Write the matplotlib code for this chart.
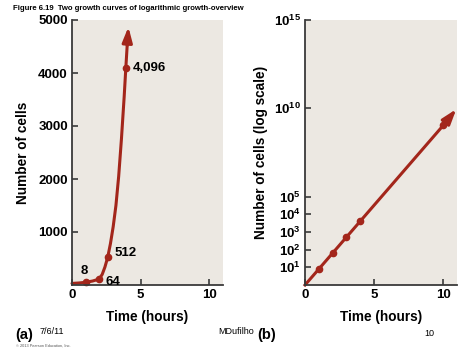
import numpy as np
import matplotlib
matplotlib.use('Agg')
import matplotlib.pyplot as plt

plt.rcParams['font.family'] = ['Liberation Sans', 'DejaVu Sans']
plt.rcParams['mathtext.fontset'] = 'custom'
plt.rcParams['mathtext.rm'] = 'Liberation Sans'
plt.rcParams['mathtext.bf'] = 'Liberation Sans:bold'

# (a) arithmetic scale
curve_t = [0, 0.5, 1.0, 1.5, 1.8, 2.0, 2.2, 2.4, 2.6, 2.8, 3.0, 3.2, 3.4, 3.6, 3.8, 3.92, 4.02]
curve_n = [30, 38, 51, 75, 98, 120, 200, 340, 522, 780, 1100, 1500, 2050, 2750, 3550, 4090, 4520]
tip_a = (4.11, 4870)
pts_t = [1.0, 1.97, 2.6, 3.92]
pts_n = [51, 113, 522, 4090]
pt_labels = ['8', '64', '512', '4,096']

# (b) log scale, 8x per hour
log_t = [0, 1, 2, 3, 4, 10]
log_n = [1, 8, 64, 512, 4096, 1073741824]
tip_b = (10.95, 9.0e9)

red = '#a3261b'
bg = '#ece8e2'
axc = '#3a3a3a'

fig = plt.figure(figsize=(4.74, 3.55), dpi=100)
ax1 = fig.add_axes([72/474, 70/355, 151/474, 265/355])
ax2 = fig.add_axes([305/474, 70/355, 152/474, 265/355])

for ax in (ax1, ax2):
    ax.set_facecolor(bg)
    ax.spines['top'].set_visible(False)
    ax.spines['right'].set_visible(False)
    for s in ('left', 'bottom'):
        ax.spines[s].set_color(axc)
        ax.spines[s].set_linewidth(1.3)
    ax.tick_params(direction='in', length=4.5, width=1.2, color=axc,
                   labelsize=9.5, pad=3)
    ax.set_xlim(0, 11)
    ax.set_xticks([0, 5, 10])
    ax.set_xticklabels(['0', '5', '10'], fontweight='bold')
    ax.set_xlabel('Time (hours)', fontsize=9.8, fontweight='bold', labelpad=6)

# panel a
ax1.set_ylim(0, 5000)
ax1.set_yticks([1000, 2000, 3000, 4000, 5000])
ax1.set_yticklabels(['1000', '2000', '3000', '4000', '5000'], fontweight='bold')
ax1.plot(curve_t, curve_n, color=red, lw=2.2, solid_capstyle='round',
         solid_joinstyle='round', clip_on=False)
ax1.annotate('', xy=tip_a, xytext=(curve_t[-1], curve_n[-1]),
             arrowprops=dict(arrowstyle='-|>,head_length=0.9,head_width=0.3',
                             color=red, lw=2.2, shrinkA=0, shrinkB=0))
ax1.plot(pts_t, pts_n, 'o', color=red, ms=4.5, clip_on=False)
offs = [(-1, 4, 'center', 'bottom'), (5, -2, 'left', 'center'),
        (5, 3, 'left', 'center'), (5, 0, 'left', 'center')]
for t, n, lab, (dx, dy, ha, va) in zip(pts_t, pts_n, pt_labels, offs):
    ax1.annotate(lab, (t, n), xytext=(dx, dy), textcoords='offset points',
                 ha=ha, va=va, fontsize=9.5, fontweight='bold')
ax1.set_ylabel('Number of cells', fontsize=9.8, fontweight='bold', labelpad=6)

# panel b
ax2.set_yscale('log')
ax2.set_ylim(1, 1e15)
ax2.set_yticks([1e1, 1e2, 1e3, 1e4, 1e5, 1e10, 1e15])
ax2.set_yticklabels([r'$\mathbf{10^{%d}}$' % e for e in [1, 2, 3, 4, 5, 10, 15]])
ax2.minorticks_off()
ax2.plot(log_t, log_n, color=red, lw=2.2, clip_on=False)
ax2.annotate('', xy=tip_b, xytext=(log_t[-1], log_n[-1]),
             arrowprops=dict(arrowstyle='-|>,head_length=0.9,head_width=0.3',
                             color=red, lw=2.2, shrinkA=0, shrinkB=0))
ax2.plot(log_t[1:], log_n[1:], 'o', color=red, ms=4.5)
ax2.set_ylabel('Number of cells (log scale)', fontsize=9.8, fontweight='bold', labelpad=4)

# page text
fig.text(13/474, 1 - 8/355, 'Figure 6.19  Two growth curves of logarithmic growth-overview',
         fontsize=5.6, fontweight='bold', va='center')
fig.text(15/474, 1 - 335/355, '(a)', fontsize=10.5, fontweight='bold', va='center')
fig.text(257/474, 1 - 335/355, '(b)', fontsize=10.5, fontweight='bold', va='center')
fig.text(40/474, 1 - 331/355, '7/6/11', fontsize=6.5, va='center')
fig.text(218/474, 1 - 331/355, 'MDufilho', fontsize=6.5, va='center')
fig.text(424/474, 1 - 333/355, '10', fontsize=6.5, va='center')
fig.text(16/474, 1 - 346/355, '© 2013 Pearson Education, Inc.', fontsize=2.8,
         va='center', color='#555555')

fig.savefig('out.png', dpi=100)
